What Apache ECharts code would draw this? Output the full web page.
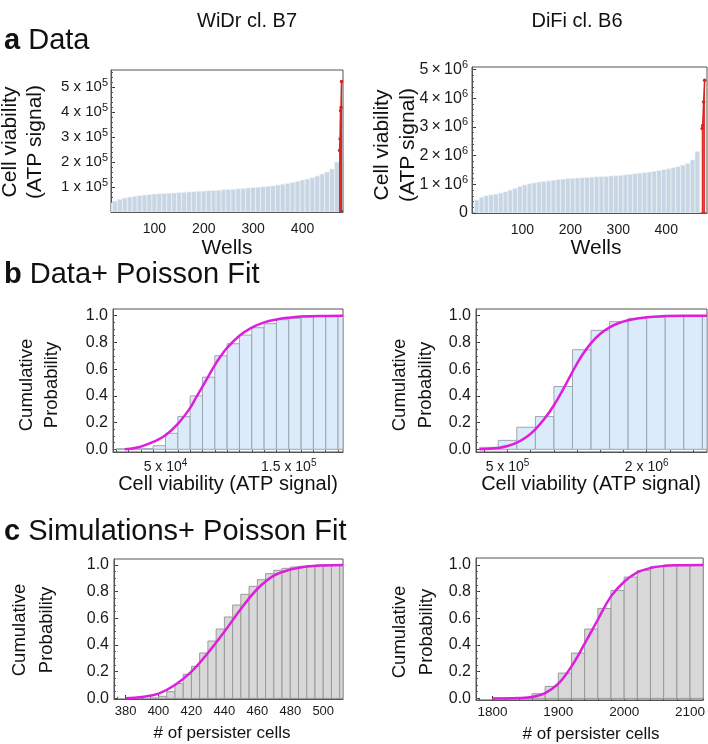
<!DOCTYPE html>
<html><head><meta charset="utf-8">
<script src="https://cdn.jsdelivr.net/npm/echarts@6/dist/echarts.min.js"></script>
<style>html,body{margin:0;padding:0;background:#fff}#c{width:708px;height:744px}</style>
</head><body><div id="c"></div>
<script>
// ---------- DATA ----------
// Panel a (WiDr): sorted wells
const wellsA1 = [10,20,30,40,50,60,70,80,90,100,110,120,130,140,150,160,170,180,190,200,210,220,230,240,250,260,270,280,290,300,310,320,330,340,350,360,370,380,390,400,410,420,430,440,450,460,470];
const cellA1 = [35000,44000,51000,56000,60000,63000,66000,68000,70000,72000,73000,74000,75000,76000,78000,79000,80000,82000,83000,84000,85000,86000,87000,89000,90000,91000,93000,94000,96000,98000,99000,101000,103000,105000,108000,111000,114000,118000,123000,128000,132000,137000,144000,152000,160000,172000,200000];
const redWellsA1 = [475,476,477,478,479];
const redA1 = [246000,292000,405000,418000,522000];
// Panel a (DiFi)
const wellsA2 = [5,15,25,35,45,55,65,75,85,95,105,115,125,135,145,155,165,175,185,195,205,215,225,235,245,255,265,275,285,295,305,315,325,335,345,355,365,375,385,395,405,415,425,435,445,455,465];
const cellA2 = [0.45e6,0.55e6,0.60e6,0.63e6,0.66e6,0.70e6,0.74e6,0.80e6,0.86e6,0.93e6,0.98e6,1.02e6,1.05e6,1.08e6,1.10e6,1.12e6,1.14e6,1.16e6,1.18e6,1.20e6,1.21e6,1.22e6,1.23e6,1.24e6,1.25e6,1.26e6,1.27e6,1.28e6,1.29e6,1.30e6,1.31e6,1.33e6,1.35e6,1.37e6,1.39e6,1.41e6,1.43e6,1.45e6,1.48e6,1.51e6,1.54e6,1.58e6,1.62e6,1.67e6,1.73e6,1.85e6,2.15e6];
const redWellsA2 = [475,476,478,480];
const redA2 = [2.95e6,3.05e6,3.87e6,4.63e6];

// Panel b (WiDr) cumulative histogram, bin width 10000
const binsB1 = [10000,20000,30000,40000,50000,60000,70000,80000,90000,100000,110000,120000,130000,140000,150000,160000,170000,180000,190000];
const cumB1 = [0.004,0.004,0.005,0.027,0.12,0.245,0.40,0.54,0.70,0.79,0.855,0.91,0.94,0.97,0.98,0.99,0.997,1.0,1.0];
const fitB1x = [17000,25000,30000,40000,50000,60000,70000,75000,80000,85000,90000,95000,100000,110000,120000,130000,140000,150000,160000,175000,194000];
const fitB1y = [0.0,0.01,0.02,0.055,0.105,0.19,0.31,0.39,0.47,0.55,0.63,0.70,0.76,0.85,0.91,0.95,0.972,0.985,0.993,0.998,1.0];
// Panel b (DiFi), bin width 200000
const binsB2 = [200000,400000,600000,800000,1000000,1200000,1400000,1600000,1800000,2000000,2200000,2400000,2600000];
const cumB2 = [0.015,0.067,0.165,0.245,0.47,0.745,0.89,0.955,0.98,0.99,0.998,1.0,1.0];
const fitB2x = [200000,300000,400000,500000,600000,700000,800000,900000,1000000,1100000,1200000,1300000,1400000,1500000,1600000,1700000,1800000,2000000,2200000,2400000,2650000];
const fitB2y = [0.0,0.004,0.01,0.025,0.05,0.09,0.15,0.23,0.33,0.45,0.58,0.70,0.795,0.865,0.913,0.945,0.966,0.988,0.997,1.0,1.0];
// Panel c (WiDr simulations), bin width 5
const binsC1 = [395,400,405,410,415,420,425,430,435,440,445,450,455,460,465,470,475,480,485,490,495,500,505,510];
const cumC1 = [0.003,0.015,0.05,0.11,0.18,0.24,0.34,0.43,0.52,0.61,0.70,0.78,0.84,0.89,0.935,0.96,0.975,0.985,0.99,0.995,1.0,1.0,1.0,1.0];
const fitC1x = [380,390,400,410,420,430,440,450,460,470,480,490,500,512];
const fitC1y = [0.0,0.01,0.035,0.10,0.20,0.34,0.50,0.67,0.82,0.92,0.965,0.988,0.997,1.0];
// Panel c (DiFi simulations), bin width 20
const binsC2 = [1840,1860,1880,1900,1920,1940,1960,1980,2000,2020,2040,2060,2080,2100];
const cumC2 = [0.005,0.035,0.09,0.19,0.34,0.52,0.675,0.81,0.91,0.96,0.99,1.0,1.0,1.0];
const fitC2x = [1800,1840,1860,1880,1900,1920,1940,1960,1980,2000,2020,2040,2060,2080,2120];
const fitC2y = [0.0,0.003,0.01,0.04,0.11,0.24,0.41,0.59,0.765,0.875,0.945,0.978,0.993,0.998,1.0];

// Tick labels
const ticksA1x = [100,200,300,400];
const ticksA1y = [100000,200000,300000,400000,500000];
const ticksA2x = [100,200,300,400];
const ticksA2y = [0,1e6,2e6,3e6,4e6,5e6];
const ticksB1x = [50000,150000];
const ticksB2x = [500000,2000000];
const ticksProb = [0,0.2,0.4,0.6,0.8,1.0];
const ticksC1x = [380,400,420,440,460,480,500];
const ticksC2x = [1800,1900,2000,2100];

// ---------- LAYOUT / STYLE ----------
const FONT = '"Liberation Sans", Arial, Helvetica, sans-serif';
const grids = [
  {left:111, top:70, width:232, height:142},
  {left:472, top:67, width:235, height:146},
  {left:113, top:309, width:230, height:143},
  {left:476, top:309, width:231, height:143},
  {left:114, top:559, width:229, height:140},
  {left:476, top:558, width:231, height:142}
];
const ranges = [
  {x:[12,482], y:[0,568000]},
  {x:[-5,485], y:[0,5.09e6]},
  {x:[7400,194000], y:[-0.02,1.05]},
  {x:[160000,2650000], y:[-0.02,1.05]},
  {x:[373,512], y:[-0.005,1.045]},
  {x:[1775,2120], y:[-0.012,1.053]}
];
function steps(a,b,s){const r=[];for(let v=a;v<=b+1e-9;v+=s)r.push(+v.toFixed(6));return r;}
const minorX = [steps(20,480,20), steps(0,480,20), steps(10000,190000,10000), steps(250000,2500000,250000), steps(375,510,5), steps(1780,2120,20)];
const minorY = [steps(20000,560000,20000), steps(0,5e6,200000), steps(0,1,0.05), steps(0,1,0.05), steps(0,1,0.05), steps(0,1,0.05)];
const majorX = [ticksA1x, ticksA2x, ticksB1x, ticksB2x, ticksC1x, ticksC2x];
const majorY = [ticksA1y, ticksA2y, ticksProb, ticksProb, ticksProb, ticksProb];

function sci(v, times){
  if (v === 0) return '{m|0}';
  const e = Math.floor(Math.log10(v) + 1e-9);
  const m = +(v / Math.pow(10, e)).toFixed(3);
  return '{m|' + m + (times ? '\u2009×\u200910' : ' x 10') + '}{s|' + e + '}';
}
function rich(fs){
  return { m:{fontSize:fs, fontFamily:FONT, color:'#1a1a1a', lineHeight:fs+4},
           s:{fontSize:Math.round(fs*0.7), fontFamily:FONT, color:'#1a1a1a', verticalAlign:'top', lineHeight:Math.round(fs*0.7)+1} };
}
const xFmt = [v=>'{m|'+v+'}', v=>'{m|'+v+'}', v=>sci(v,false), v=>sci(v,false), v=>'{m|'+v+'}', v=>'{m|'+v+'}'];
const yFmt = [v=>sci(v,false), v=>sci(v,true), v=>'{m|'+v.toFixed(1)+'}', v=>'{m|'+v.toFixed(1)+'}', v=>'{m|'+v.toFixed(1)+'}', v=>'{m|'+v.toFixed(1)+'}'];
const xFs = [14,14,14,14,13,13.5];
const yFs = [15,16,16,16,16,16];
const xMargin = [8,8,6,6,4,4];
const yMargin = [3,4,5,5,5,5];

const xAxes = [], yAxes = [];
grids.forEach((g,i)=>{
  xAxes.push({type:'value', gridIndex:i, min:ranges[i].x[0], max:ranges[i].x[1], position:'bottom',
    axisLine:{show:true, onZero:false, lineStyle:{color:'#555', width:1}},
    splitLine:{show:false},
    axisTick:{show:true, inside:true, length:4, customValues:majorX[i], lineStyle:{color:'#333'}},
    axisLabel:{show:true, customValues:majorX[i], margin:xMargin[i], formatter:xFmt[i], rich:rich(xFs[i]), showMinLabel:true, showMaxLabel:true, hideOverlap:false}});
  xAxes.push({type:'value', gridIndex:i, min:ranges[i].x[0], max:ranges[i].x[1], position:'bottom',
    axisLine:{show:false, onZero:false}, splitLine:{show:false}, axisLabel:{show:false, customValues:minorX[i]},
    axisTick:{show:true, inside:true, length:2, customValues:minorX[i], lineStyle:{color:'#555'}}});
  yAxes.push({type:'value', gridIndex:i, min:ranges[i].y[0], max:ranges[i].y[1], position:'left',
    axisLine:{show:true, onZero:false, lineStyle:{color:'#555', width:1}},
    splitLine:{show:false},
    axisTick:{show:true, inside:true, length:4, customValues:majorY[i], lineStyle:{color:'#333'}},
    axisLabel:{show:true, customValues:majorY[i], margin:yMargin[i], formatter:yFmt[i], rich:rich(yFs[i]), showMinLabel:true, showMaxLabel:true, hideOverlap:false}});
  yAxes.push({type:'value', gridIndex:i, min:ranges[i].y[0], max:ranges[i].y[1], position:'left',
    axisLine:{show:false, onZero:false}, splitLine:{show:false}, axisLabel:{show:false, customValues:minorY[i]},
    axisTick:{show:true, inside:true, length:2, customValues:minorY[i], lineStyle:{color:'#555'}}});
});

function rectRender(fill, stroke, lw){
  return function(params, api){
    const a = api.coord([api.value(0), api.value(2)]);
    const b = api.coord([api.value(1), 0]);
    const cs = params.coordSys;
    const r = echarts.graphic.clipRectByRect({x:a[0], y:a[1], width:b[0]-a[0], height:b[1]-a[1]},
      {x:cs.x, y:cs.y, width:cs.width, height:cs.height});
    if (!r) return null;
    return {type:'rect', shape:r, style:{fill:fill, stroke:stroke, lineWidth:lw}};
  };
}
function barsFromCenters(xs, vs, half){ return xs.map((x,i)=>[x-half, x+half, vs[i]]); }
function barsFromStarts(xs, w, vs){ return xs.map((x,i)=>[x, x+w, vs[i]]); }
function custom(gi, data, fill, stroke, lw){
  return {type:'custom', xAxisIndex:gi*2, yAxisIndex:gi*2, data:data, renderItem:rectRender(fill, stroke, lw), clip:true, silent:true};
}
function fit(gi, xs, ys){
  return {type:'line', xAxisIndex:gi*2, yAxisIndex:gi*2, data:xs.map((x,i)=>[x, ys[i]]), smooth:0.4,
    symbol:'none', lineStyle:{color:'#dd1fdd', width:2.5}, clip:true, z:5};
}
function redLine(gi, xs, ys){
  return {type:'line', xAxisIndex:gi*2, yAxisIndex:gi*2, data:xs.map((x,i)=>[x, ys[i]]),
    symbol:'circle', symbolSize:3.5, itemStyle:{color:'#d8231c'}, lineStyle:{color:'#d8231c', width:1.5}, clip:true, z:5};
}

const BLUEA = '#c8d5e3', BLUEB = '#dcebf9', GREY = '#d8d8d8';
const series = [
  custom(0, barsFromCenters(wellsA1, cellA1, 5), BLUEA, '#eef3f8', 0.7),
  custom(0, barsFromCenters(redWellsA1, redA1, 1), '#e0221b', null, 0),
  redLine(0, redWellsA1, redA1),
  custom(1, barsFromCenters(wellsA2, cellA2, 5), BLUEA, '#eef3f8', 0.7),
  custom(1, barsFromCenters(redWellsA2, redA2, 1), '#e0221b', null, 0),
  redLine(1, redWellsA2, redA2),
  custom(2, barsFromStarts(binsB1, 10000, cumB1), BLUEB, '#9ba6b2', 1),
  fit(2, fitB1x, fitB1y),
  custom(3, barsFromStarts(binsB2, 200000, cumB2), BLUEB, '#9ba6b2', 1),
  fit(3, fitB2x, fitB2y),
  custom(4, barsFromStarts(binsC1, 5, cumC1), GREY, '#9a9a9a', 1),
  fit(4, fitC1x, fitC1y),
  custom(5, barsFromStarts(binsC2, 20, cumC2), GREY, '#9a9a9a', 1),
  fit(5, fitC2x, fitC2y)
];

function txt(x, y, text, size, opts){
  opts = opts || {};
  return {type:'text', x:x, y:y, rotation:opts.rot || 0, z:10,
    style:{text:text, font:(opts.weight||'normal')+' '+size+'px '+FONT, fill:'#111',
      textAlign:opts.align||'center', textVerticalAlign:'middle', rich:opts.rich}};
}
const R = Math.PI/2;
const TS = 29;
const titleRich = {b:{fontWeight:'bold', fontSize:TS, fontFamily:FONT, fill:'#111'}, n:{fontSize:TS, fontFamily:FONT, fill:'#111'}};
const graphic = [
  txt(247, 21, 'WiDr cl. B7', 20),
  txt(577, 21, 'DiFi cl. B6', 20),
  txt(4, 41, '{b|a}{n| Data}', TS, {align:'left', rich:titleRich}),
  txt(4, 275, '{b|b}{n| Data+ Poisson Fit}', TS, {align:'left', rich:titleRich}),
  txt(4, 532, '{b|c}{n| Simulations+ Poisson Fit}', TS, {align:'left', rich:titleRich}),
  txt(10, 142, 'Cell viability', 21, {rot:R}),
  txt(35, 142, '(ATP signal)', 21, {rot:R}),
  txt(382, 145, 'Cell viability', 21, {rot:R}),
  txt(408, 145, '(ATP signal)', 21, {rot:R}),
  txt(227, 248, 'Wells', 21),
  txt(596, 248, 'Wells', 21),
  txt(27, 385, 'Cumulative', 18.5, {rot:R}),
  txt(52, 385, 'Probability', 18.5, {rot:R}),
  txt(400, 385, 'Cumulative', 18.5, {rot:R}),
  txt(426, 385, 'Probability', 18.5, {rot:R}),
  txt(228, 484, 'Cell viability (ATP signal)', 20),
  txt(591, 484, 'Cell viability (ATP signal)', 20),
  txt(20, 630, 'Cumulative', 18.5, {rot:R}),
  txt(47, 630, 'Probability', 18.5, {rot:R}),
  txt(400, 632, 'Cumulative', 18.5, {rot:R}),
  txt(427, 632, 'Probability', 18.5, {rot:R}),
  txt(222, 733, '# of persister cells', 17),
  txt(591, 734, '# of persister cells', 17)
];

const chart = echarts.init(document.getElementById('c'), null, {renderer:'canvas'});
chart.setOption({
  animation:false,
  backgroundColor:'#ffffff',
  textStyle:{fontFamily:FONT},
  grid: grids.map(g=>Object.assign({show:true, borderColor:'#555', borderWidth:1, backgroundColor:'transparent', containLabel:false}, g)),
  xAxis: xAxes,
  yAxis: yAxes,
  series: series,
  graphic: graphic
});
</script></body></html>
